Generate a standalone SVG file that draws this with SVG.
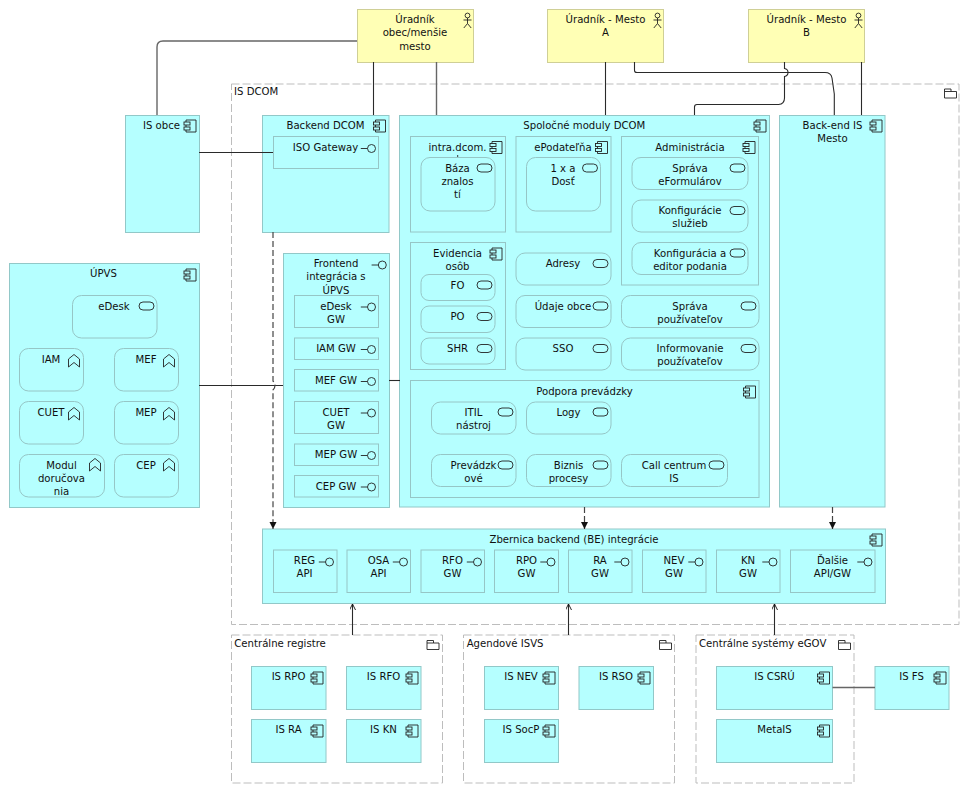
<svg xmlns="http://www.w3.org/2000/svg" width="962" height="794" viewBox="0 0 962 794">
<style>
text{font-family:"DejaVu Sans","Liberation Sans",sans-serif;font-size:10.15px;fill:#111;text-anchor:middle}
text.l{text-anchor:start}
.n{fill:#b5ffff;stroke:#92c8c8;stroke-width:1}
.s{fill:#b5ffff;stroke:#96c6c6;stroke-width:1}
.a{fill:#ffffb5;stroke:#cfcf96;stroke-width:1}
.g{fill:none;stroke:#bdbdbd;stroke-width:1;stroke-dasharray:8 3}
.i{fill:none;stroke:#222;stroke-width:.9}
.c{fill:none;stroke:#2a2a2a;stroke-width:1.1}
.c2{fill:none;stroke:#666;stroke-width:1.4}
.d{fill:none;stroke:#444;stroke-width:1.2;stroke-dasharray:6 3}
</style>
<defs>
<marker id="tri" markerWidth="8" markerHeight="8" refX="7" refY="3.5" orient="auto" markerUnits="userSpaceOnUse"><path d="M0,0L7,3.5L0,7Z" fill="#111"/></marker>
<marker id="open" markerWidth="7" markerHeight="7" refX="6" refY="3" orient="auto" markerUnits="userSpaceOnUse"><path d="M0,0L6,3L0,6" fill="none" stroke="#111" stroke-width=".9"/></marker>
<g id="comp" class="i"><path d="M-10,2V0H0V12H-10V10M-10,5V7"/><rect x="-12" y="2" width="6" height="3"/><rect x="-12" y="7" width="6" height="3"/></g>
<g id="ifc" class="i"><path d="M-10.7,0H-4"/><circle cx="0" cy="0" r="4"/></g>
<rect id="svc" class="i" x="-15" y="0" width="15" height="8" rx="4"/>
<path id="cap" class="i" d="M-11.5,4.5L-6,0L-.5,4.5V12.5L-6,8L-11.5,12.5Z"/>
<g id="act" class="i"><circle cx="0" cy="2.5" r="2.4"/><path d="M0,5V10.5M-4,7H4M0,10.5L-3.7,15M0,10.5L3.7,15"/></g>
<g id="fold" class="i"><path d="M0,2.5H6.5V0H0V9H12V2.5H6.5"/></g>
</defs>

<g id="group-is-dcom"><rect class="g" x="231.5" y="84" width="727.5" height="540.5"/><use href="#fold" x="944.5" y="89"/><text class="l" x="234" y="95">IS DCOM</text></g>
<g id="group-centralne-registre"><rect class="g" x="231.5" y="635" width="211" height="148"/><use href="#fold" x="427" y="640.5"/><text class="l" x="234.3" y="646.5">Centrálne registre</text></g>
<g id="group-agendove-isvs"><rect class="g" x="463.5" y="635" width="211" height="148"/><use href="#fold" x="659.5" y="640.5"/><text class="l" x="466.7" y="646.5">Agendové ISVS</text></g>
<g id="group-centralne-systemy"><rect class="g" x="696" y="635" width="158" height="148"/><use href="#fold" x="838.5" y="640.5"/><text class="l" x="699" y="646.5">Centrálne systémy eGOV</text></g>

<g id="actor-obec"><rect class="a" x="357.5" y="9.5" width="116" height="53"/><use href="#act" x="467.5" y="13"/><text x="415" y="23">Úradník</text><text x="415" y="36.3">obec/menšie</text><text x="415" y="49.6">mesto</text></g>
<g id="actor-a"><rect class="a" x="547.5" y="9.5" width="116" height="53"/><use href="#act" x="657.5" y="13"/><text x="605.5" y="23">Úradník - Mesto</text><text x="605.5" y="36.3">A</text></g>
<g id="actor-b"><rect class="a" x="748.5" y="9.5" width="116" height="53"/><use href="#act" x="858.5" y="13"/><text x="806.5" y="23">Úradník - Mesto</text><text x="806.5" y="36.3">B</text></g>

<g id="is-obce"><rect class="n" x="125.5" y="115.5" width="74" height="117"/><use href="#comp" x="196" y="120"/><text x="161.5" y="129">IS obce</text></g>

<g id="backend-dcom"><rect class="n" x="262.5" y="115.5" width="126.5" height="117"/><use href="#comp" x="385.5" y="120"/><text x="325.5" y="129">Backend DCOM</text></g>
<g id="iso-gateway"><rect class="s" x="273.5" y="136.5" width="105" height="32"/><use href="#ifc" x="371.5" y="148.5"/><text x="325.5" y="150.5">ISO Gateway</text></g>

<g id="spolocne-moduly"><rect class="n" x="399.5" y="115.5" width="370" height="391.5"/><use href="#comp" x="766" y="120"/><text x="584.3" y="129">Spoločné moduly DCOM</text></g>
<g id="intra-dcom"><rect class="s" x="410.5" y="136.5" width="95" height="95.5"/><use href="#comp" x="502" y="141.5"/><text x="457.5" y="150.5">intra.dcom.</text><path class="i" d="M457.7,155V157"/></g>
<g id="baza-znalosti"><rect class="s" x="421" y="157.5" width="74" height="53.5" rx="9"/><use href="#svc" x="492" y="164"/><text x="457.5" y="171.5">Báza</text><text x="457.5" y="184.8">znalos</text><text x="457.5" y="198.1">tí</text></g>
<g id="epodatelna"><rect class="s" x="516" y="136.5" width="95" height="95.5"/><use href="#comp" x="607.5" y="141.5"/><text x="563" y="150.5">ePodateľňa</text></g>
<g id="jeden-x-a-dost"><rect class="s" x="526.5" y="157.5" width="74" height="53.5" rx="9"/><use href="#svc" x="597.5" y="164"/><text x="563" y="171.5">1 x a</text><text x="563" y="184.8">Dosť</text></g>
<g id="administracia"><rect class="s" x="621.5" y="136.5" width="137" height="148.5"/><use href="#comp" x="755" y="141.5"/><text x="690" y="150.5">Administrácia</text></g>
<g id="sprava-eformularov"><rect class="s" x="632" y="157.5" width="116" height="32" rx="9"/><use href="#svc" x="745" y="164"/><text x="690" y="171.5">Správa</text><text x="690" y="184.8">eFormulárov</text></g>
<g id="konfiguracie-sluzieb"><rect class="s" x="632" y="200" width="116" height="32" rx="9"/><use href="#svc" x="745" y="206.5"/><text x="690" y="214">Konfigurácie</text><text x="690" y="227.3">služieb</text></g>
<g id="konfiguracia-editor"><rect class="s" x="632" y="242.5" width="116" height="32" rx="9"/><use href="#svc" x="745" y="249"/><text x="690" y="256.5">Konfigurácia a</text><text x="690" y="269.8">editor podania</text></g>
<g id="evidencia-osob"><rect class="s" x="410.5" y="242.5" width="95" height="127"/><use href="#comp" x="502" y="248"/><text x="457.5" y="256.5">Evidencia</text><text x="457.5" y="269.8">osôb</text></g>
<g id="fo"><rect class="s" x="421" y="274.5" width="74" height="26" rx="8"/><use href="#svc" x="492" y="281"/><text x="457.5" y="288.5">FO</text></g>
<g id="po"><rect class="s" x="421" y="306" width="74" height="26.5" rx="8"/><use href="#svc" x="492" y="312.5"/><text x="457.5" y="320">PO</text></g>
<g id="shr"><rect class="s" x="421" y="338" width="74" height="26" rx="8"/><use href="#svc" x="492" y="344.5"/><text x="457.5" y="352">SHR</text></g>
<g id="adresy"><rect class="s" x="516" y="253" width="95" height="32" rx="9"/><use href="#svc" x="608" y="259.5"/><text x="563" y="267">Adresy</text></g>
<g id="udaje-obce"><rect class="s" x="516" y="295.5" width="95" height="32" rx="9"/><use href="#svc" x="608" y="302"/><text x="563" y="309.5">Údaje obce</text></g>
<g id="sso"><rect class="s" x="516" y="338" width="95" height="32" rx="9"/><use href="#svc" x="608" y="344.5"/><text x="563" y="352">SSO</text></g>
<g id="sprava-pouzivatelov"><rect class="s" x="621.5" y="295.5" width="137.5" height="32" rx="9"/><use href="#svc" x="756" y="302"/><text x="690" y="309.5">Správa</text><text x="690" y="322.8">používateľov</text></g>
<g id="informovanie-pouzivatelov"><rect class="s" x="621.5" y="338" width="137.5" height="32" rx="9"/><use href="#svc" x="756" y="344.5"/><text x="690" y="352">Informovanie</text><text x="690" y="365.3">používateľov</text></g>
<g id="podpora-prevadzky"><rect class="s" x="410.5" y="380.5" width="348.5" height="117"/><use href="#comp" x="755.5" y="386"/><text x="584.5" y="394.5">Podpora prevádzky</text></g>
<g id="itil"><rect class="s" x="431.5" y="402" width="84.5" height="32" rx="9"/><use href="#svc" x="513" y="408"/><text x="473.5" y="415.5">ITIL</text><text x="473.5" y="428.8">nástroj</text></g>
<g id="logy"><rect class="s" x="526.5" y="402" width="84.5" height="32" rx="9"/><use href="#svc" x="608" y="408"/><text x="568.5" y="415.5">Logy</text></g>
<g id="prevadzkove"><rect class="s" x="431.5" y="454.5" width="84.5" height="32" rx="9"/><use href="#svc" x="513" y="461"/><text x="473.5" y="468.5">Prevádzk</text><text x="473.5" y="481.8">ové</text></g>
<g id="biznis-procesy"><rect class="s" x="526.5" y="454.5" width="84.5" height="32" rx="9"/><use href="#svc" x="608" y="461"/><text x="568.5" y="468.5">Biznis</text><text x="568.5" y="481.8">procesy</text></g>
<g id="call-centrum"><rect class="s" x="621.5" y="454.5" width="106" height="32" rx="9"/><use href="#svc" x="724" y="461"/><text x="674" y="468.5">Call centrum</text><text x="674" y="481.8">IS</text></g>

<g id="backend-is-mesto"><rect class="n" x="779.5" y="115.5" width="105.5" height="391.5"/><use href="#comp" x="882" y="120"/><text x="832.5" y="129">Back-end IS</text><text x="832.5" y="142.3">Mesto</text></g>

<g id="upvs"><rect class="n" x="9.5" y="263.5" width="190" height="244"/><use href="#comp" x="196" y="269"/><text x="103.5" y="277">ÚPVS</text></g>
<g id="edesk"><rect class="s" x="72.5" y="295.5" width="84.5" height="42.5" rx="9"/><use href="#svc" x="154" y="302"/><text x="114" y="309.5">eDesk</text></g>
<g id="iam"><rect class="s" x="19.5" y="348.5" width="64" height="42.5" rx="9"/><use href="#cap" x="80" y="354.5"/><text x="51" y="362.5">IAM</text></g>
<g id="mef"><rect class="s" x="114.5" y="348.5" width="64" height="42.5" rx="9"/><use href="#cap" x="175" y="354.5"/><text x="146" y="362.5">MEF</text></g>
<g id="cuet"><rect class="s" x="19.5" y="401.5" width="64" height="42.5" rx="9"/><use href="#cap" x="80" y="407.5"/><text x="51" y="415.5">CUET</text></g>
<g id="mep"><rect class="s" x="114.5" y="401.5" width="64" height="42.5" rx="9"/><use href="#cap" x="175" y="407.5"/><text x="146" y="415.5">MEP</text></g>
<g id="modul-dorucovania"><rect class="s" x="19.5" y="454.5" width="85" height="42.5" rx="9"/><use href="#cap" x="101" y="458.5"/><text x="61.5" y="468.5">Modul</text><text x="61.5" y="481.8">doručova</text><text x="61.5" y="495.1">nia</text></g>
<g id="cep"><rect class="s" x="114.5" y="454.5" width="64" height="42.5" rx="9"/><use href="#cap" x="175" y="458.5"/><text x="146" y="468.5">CEP</text></g>

<g id="frontend"><rect class="n" x="283.5" y="253.5" width="106" height="254"/><use href="#ifc" x="382.3" y="265"/><text x="336" y="267">Frontend</text><text x="336" y="280.3">integrácia s</text><text x="336" y="293.6">ÚPVS</text></g>
<g id="edesk-gw"><rect class="s" x="294.5" y="295.5" width="84" height="32"/><use href="#ifc" x="371.5" y="307"/><text x="336" y="309.5">eDesk</text><text x="336" y="322.8">GW</text></g>
<g id="iam-gw"><rect class="s" x="294.5" y="338" width="84" height="21.5"/><use href="#ifc" x="371.5" y="349.5"/><text x="336" y="352">IAM GW</text></g>
<g id="mef-gw"><rect class="s" x="294.5" y="369.5" width="84" height="21.5"/><use href="#ifc" x="371.5" y="381.5"/><text x="336" y="383.5">MEF GW</text></g>
<g id="cuet-gw"><rect class="s" x="294.5" y="401.5" width="84" height="32"/><use href="#ifc" x="371.5" y="413"/><text x="336" y="415.5">CUET</text><text x="336" y="428.8">GW</text></g>
<g id="mep-gw"><rect class="s" x="294.5" y="444" width="84" height="21.5"/><use href="#ifc" x="371.5" y="455.5"/><text x="336" y="458">MEP GW</text></g>
<g id="cep-gw"><rect class="s" x="294.5" y="475.5" width="84" height="21.5"/><use href="#ifc" x="371.5" y="487"/><text x="336" y="489.5">CEP GW</text></g>

<g id="zbernica"><rect class="n" x="262.5" y="529" width="623" height="74.5"/><use href="#comp" x="882" y="534"/><text x="574" y="543">Zbernica backend (BE) integrácie</text></g>
<g id="reg-api"><rect class="s" x="273.5" y="550" width="63.5" height="42.5"/><use href="#ifc" x="329.5" y="562"/><text x="304.5" y="564">REG</text><text x="304.5" y="577.3">API</text></g>
<g id="osa-api"><rect class="s" x="347" y="550" width="63.5" height="42.5"/><use href="#ifc" x="403.5" y="562"/><text x="378.5" y="564">OSA</text><text x="378.5" y="577.3">API</text></g>
<g id="rfo-gw"><rect class="s" x="421" y="550" width="63.5" height="42.5"/><use href="#ifc" x="477.5" y="562"/><text x="452.5" y="564">RFO</text><text x="452.5" y="577.3">GW</text></g>
<g id="rpo-gw"><rect class="s" x="494.5" y="550" width="64" height="42.5"/><use href="#ifc" x="551" y="562"/><text x="526.5" y="564">RPO</text><text x="526.5" y="577.3">GW</text></g>
<g id="ra-gw"><rect class="s" x="568.5" y="550" width="63.5" height="42.5"/><use href="#ifc" x="625" y="562"/><text x="600" y="564">RA</text><text x="600" y="577.3">GW</text></g>
<g id="nev-gw"><rect class="s" x="642.5" y="550" width="63.5" height="42.5"/><use href="#ifc" x="699" y="562"/><text x="674" y="564">NEV</text><text x="674" y="577.3">GW</text></g>
<g id="kn-gw"><rect class="s" x="716.5" y="550" width="63.5" height="42.5"/><use href="#ifc" x="773" y="562"/><text x="748" y="564">KN</text><text x="748" y="577.3">GW</text></g>
<g id="dalsie-api-gw"><rect class="s" x="790.5" y="550" width="84.5" height="42.5"/><use href="#ifc" x="868" y="562"/><text x="832.5" y="564">Ďalšie</text><text x="832.5" y="577.3">API/GW</text></g>

<g id="is-rpo"><rect class="n" x="251.5" y="666.5" width="74.5" height="43"/><use href="#comp" x="323" y="672"/><text x="288.5" y="680">IS RPO</text></g>
<g id="is-rfo"><rect class="n" x="346.5" y="666.5" width="74.5" height="43"/><use href="#comp" x="418" y="672"/><text x="383.5" y="680">IS RFO</text></g>
<g id="is-ra"><rect class="n" x="251.5" y="719.5" width="74.5" height="43"/><use href="#comp" x="323" y="725"/><text x="288.5" y="733">IS RA</text></g>
<g id="is-kn"><rect class="n" x="346.5" y="719.5" width="74.5" height="43"/><use href="#comp" x="418" y="725"/><text x="383.5" y="733">IS KN</text></g>
<g id="is-nev"><rect class="n" x="484.5" y="666.5" width="74" height="43"/><use href="#comp" x="555" y="672"/><text x="521" y="680">IS NEV</text></g>
<g id="is-rso"><rect class="n" x="579" y="666.5" width="74.5" height="43"/><use href="#comp" x="650" y="672"/><text x="616" y="680">IS RSO</text></g>
<g id="is-socp"><rect class="n" x="484.5" y="719.5" width="74" height="43"/><use href="#comp" x="555" y="725"/><text x="521" y="733">IS SocP</text></g>
<g id="is-csru"><rect class="n" x="716.5" y="666.5" width="116" height="43"/><use href="#comp" x="829.5" y="672"/><text x="774.5" y="680">IS CSRÚ</text></g>
<g id="metais"><rect class="n" x="716.5" y="719.5" width="116" height="43"/><use href="#comp" x="829.5" y="725"/><text x="774.5" y="733">MetaIS</text></g>
<g id="is-fs"><rect class="n" x="875" y="666.5" width="74" height="43"/><use href="#comp" x="946" y="672"/><text x="911.5" y="680">IS FS</text></g>

<g id="connectors">
<path class="c2" d="M357,41H163Q157,41 157,47V115"/>
<path class="c" d="M373.5,62V115"/>
<path class="c2" d="M436.5,62V115"/>
<path class="c" d="M199,152.5H273"/>
<path class="c" d="M605.5,62V115"/>
<path class="c" d="M634.5,62V70.5Q634.5,72.5 637,72.5H825Q831,72.5 832,78L834.3,94V115"/>
<path class="c" d="M784.5,62V68.5Q788,69 788,72.5Q788,76 784.5,76.5V98Q784.5,104 778.5,104.5H697Q694.5,104.5 694.5,107V115"/>
<path class="c" d="M861.5,62V115"/>
<path class="c" d="M199,385.5H283"/>
<path class="c" d="M389,380.5H400"/>
<path class="d" d="M273,232V381Q277,385.5 273,390V529" marker-end="url(#tri)"/>
<path class="d" d="M584.5,507V529" marker-end="url(#tri)"/>
<path class="d" d="M832.5,507V529" marker-end="url(#tri)"/>
<path class="c" d="M352.5,635V604" marker-end="url(#open)"/>
<path class="c" d="M568.5,635V604" marker-end="url(#open)"/>
<path class="c" d="M774.5,635V604" marker-end="url(#open)"/>
<path class="c2" d="M832.5,687.5H875"/>
</g>
</svg>
